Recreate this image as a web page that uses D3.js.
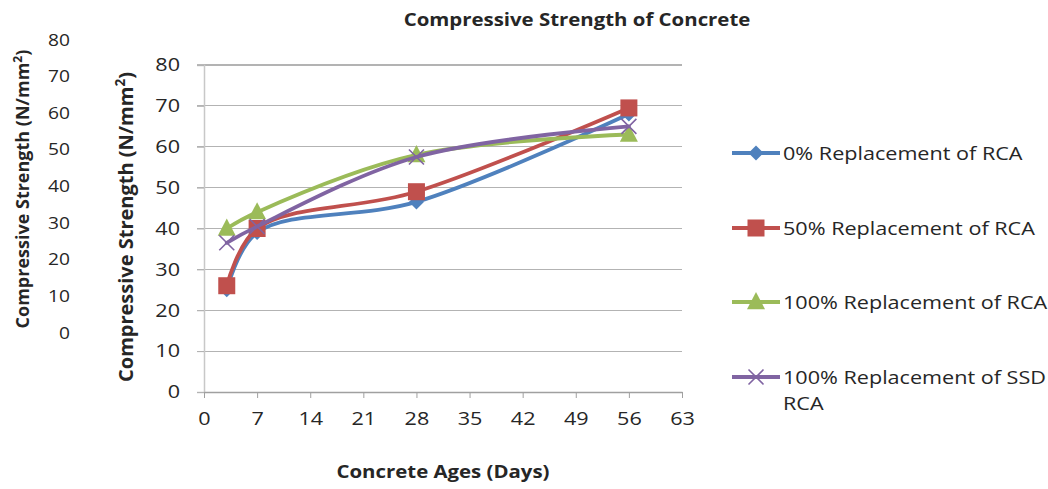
<!DOCTYPE html>
<html><head><meta charset="utf-8">
<script src="https://cdn.jsdelivr.net/npm/d3@7"></script>
<style>
html,body{margin:0;padding:0;background:#fff;}
svg{display:block;font-family:"Open Sans",sans-serif;}
</style></head>
<body><svg id="c" width="1048" height="489"></svg>
<script>
const days = [3, 7, 28, 56];
const seriesNames = ["0% Replacement of RCA", "50% Replacement of RCA", "100% Replacement of RCA", "100% Replacement of SSD RCA"];
const s0 = [25, 39, 46.5, 68];
const s50 = [26, 40, 49, 69.5];
const s100 = [40, 44, 58, 63];
const sSSD = [36.5, 40.5, 57.5, 65];
const xTicks = [0, 7, 14, 21, 28, 35, 42, 49, 56, 63];
const yTicks = [0, 10, 20, 30, 40, 50, 60, 70, 80];
const colors = ["#4F81BD", "#C0504D", "#9BBB59", "#8064A2"];
const markers = ["diamond", "square", "triangle", "x"];
const allSeries = [s0, s50, s100, sSSD];

const SX = 1.2; // horizontal stretch of the original raster text
const svg = d3.select("#c");
const txt = "#262626";
const x = d3.scaleLinear().domain([0, 63]).range([204, 682]);
const y = d3.scaleLinear().domain([0, 80]).range([392, 65]);

function stretch(sel) {
  sel.each(function () {
    const t = d3.select(this);
    const tx = +t.attr("x") || 0, ty = +t.attr("y") || 0;
    t.attr("x", 0).attr("y", 0).attr("transform", `translate(${tx},${ty}) scale(${SX},1)`);
  });
}

// gridlines
svg.append("g").selectAll("line").data(yTicks.slice(1)).join("line")
  .attr("x1", 197).attr("x2", 682).attr("y1", d => y(d)).attr("y2", d => y(d))
  .attr("stroke", "#b3b3b3").attr("stroke-width", 1.2).attr("shape-rendering","crispEdges");

// y axis
const ya = svg.append("g").attr("transform", "translate(204,0)")
  .call(d3.axisLeft(y).tickValues(yTicks).tickSize(7).tickPadding(17));
ya.select(".domain").attr("stroke", "#c8c8c8").attr("stroke-width", 1.5);
ya.selectAll(".tick line").attr("stroke", "#b3b3b3");
ya.selectAll("text").attr("fill", txt).style("font-size", "18px").style("font-family", "Open Sans");
stretch(ya.selectAll("text"));

// x axis
const xa = svg.append("g").attr("transform", "translate(0,392)")
  .call(d3.axisBottom(x).tickValues(xTicks).tickSize(6).tickPadding(14).tickSizeOuter(0));
xa.select(".domain").attr("stroke", "#a0a0a0").attr("stroke-width", 1.5);
xa.selectAll(".tick line").attr("stroke", "#a0a0a0");
xa.selectAll("text").attr("fill", txt).style("font-size", "18px").style("font-family", "Open Sans");
stretch(xa.selectAll("text"));

// ghost outer y axis (artifact of the original figure)
const y2 = d3.scaleLinear().domain([0, 80]).range([333, 40]);
const ya2 = svg.append("g").attr("transform", "translate(72,0)")
  .call(d3.axisLeft(y2).tickValues(yTicks).tickSize(0).tickPadding(2));
ya2.select(".domain").remove();
ya2.selectAll("text").attr("fill", txt).style("font-size", "16px").style("font-family", "Open Sans");
stretch(ya2.selectAll("text"));

// titles
const t1 = svg.append("text").attr("x", 577).attr("y", 26).attr("text-anchor", "middle")
  .attr("fill", txt).style("font-size", "17px").style("font-weight", "bold")
  .text("Compressive Strength of Concrete");
stretch(t1);
const t2 = svg.append("text").attr("x", 443).attr("y", 478).attr("text-anchor", "middle")
  .attr("fill", txt).style("font-size", "17px").style("font-weight", "bold")
  .text("Concrete Ages (Days)");
stretch(t2);
function yTitle(cx, cy, fs) {
  const t = svg.append("text").attr("transform", `translate(${cx},${cy}) rotate(-90)`)
    .attr("text-anchor", "middle").attr("fill", txt)
    .style("font-size", fs + "px").style("font-weight", "bold");
  t.append("tspan").text("Compressive Strength (N/mm");
  t.append("tspan").attr("dy", -fs * 0.38).style("font-size", (fs * 0.68) + "px").text("2");
  t.append("tspan").attr("dy", fs * 0.38).text(")");
}
yTitle(29, 189, 18);
yTitle(133, 227, 20);

// series
const line = d3.line().x(d => x(d[0])).y(d => y(d[1])).curve(d3.curveCatmullRom.alpha(0.5));
function marker(g, type, color, cx, cy, s) {
  if (type === "diamond") {
    g.append("path").attr("d", `M${cx},${cy-s}L${cx+s},${cy}L${cx},${cy+s}L${cx-s},${cy}Z`).attr("fill", color);
  } else if (type === "square") {
    g.append("rect").attr("x", cx-s).attr("y", cy-s).attr("width", 2*s).attr("height", 2*s).attr("fill", color);
  } else if (type === "triangle") {
    g.append("path").attr("d", `M${cx},${cy-s*1.1}L${cx+s},${cy+s*0.8}L${cx-s},${cy+s*0.8}Z`).attr("fill", color);
  } else {
    g.append("path").attr("d", `M${cx-s},${cy-s}L${cx+s},${cy+s}M${cx-s},${cy+s}L${cx+s},${cy-s}`)
      .attr("stroke", color).attr("stroke-width", 1.6).attr("fill", "none");
  }
}
const sizes = {diamond: 7.5, square: 8.5, triangle: 9, x: 7.5};
allSeries.forEach((vals, i) => {
  const pts = days.map((d, j) => [d, vals[j]]);
  const g = svg.append("g");
  g.append("path").attr("d", line(pts)).attr("fill", "none").attr("stroke", colors[i])
    .attr("stroke-width", 3.8).attr("stroke-linejoin", "round").attr("stroke-linecap", "round");
  pts.forEach(p => marker(g, markers[i], colors[i], x(p[0]), y(p[1]), sizes[markers[i]]));
});

// legend
const legY = [153, 228, 302, 377];
seriesNames.forEach((name, i) => {
  const g = svg.append("g");
  g.append("line").attr("x1", 732).attr("x2", 780).attr("y1", legY[i]).attr("y2", legY[i])
    .attr("stroke", colors[i]).attr("stroke-width", 3.8);
  marker(g, markers[i], colors[i], 756, legY[i], sizes[markers[i]]);
  if (i === 3) {
    const a = g.append("text").attr("x", 783).attr("y", legY[i] + 7).attr("fill", txt).style("font-size", "18px")
      .text("100% Replacement of SSD");
    const b = g.append("text").attr("x", 783).attr("y", legY[i] + 33).attr("fill", txt).style("font-size", "18px")
      .text("RCA");
    stretch(a); stretch(b);
  } else {
    const a = g.append("text").attr("x", 783).attr("y", legY[i] + 7).attr("fill", txt).style("font-size", "18px").text(name);
    stretch(a);
  }
});
</script></body></html>
